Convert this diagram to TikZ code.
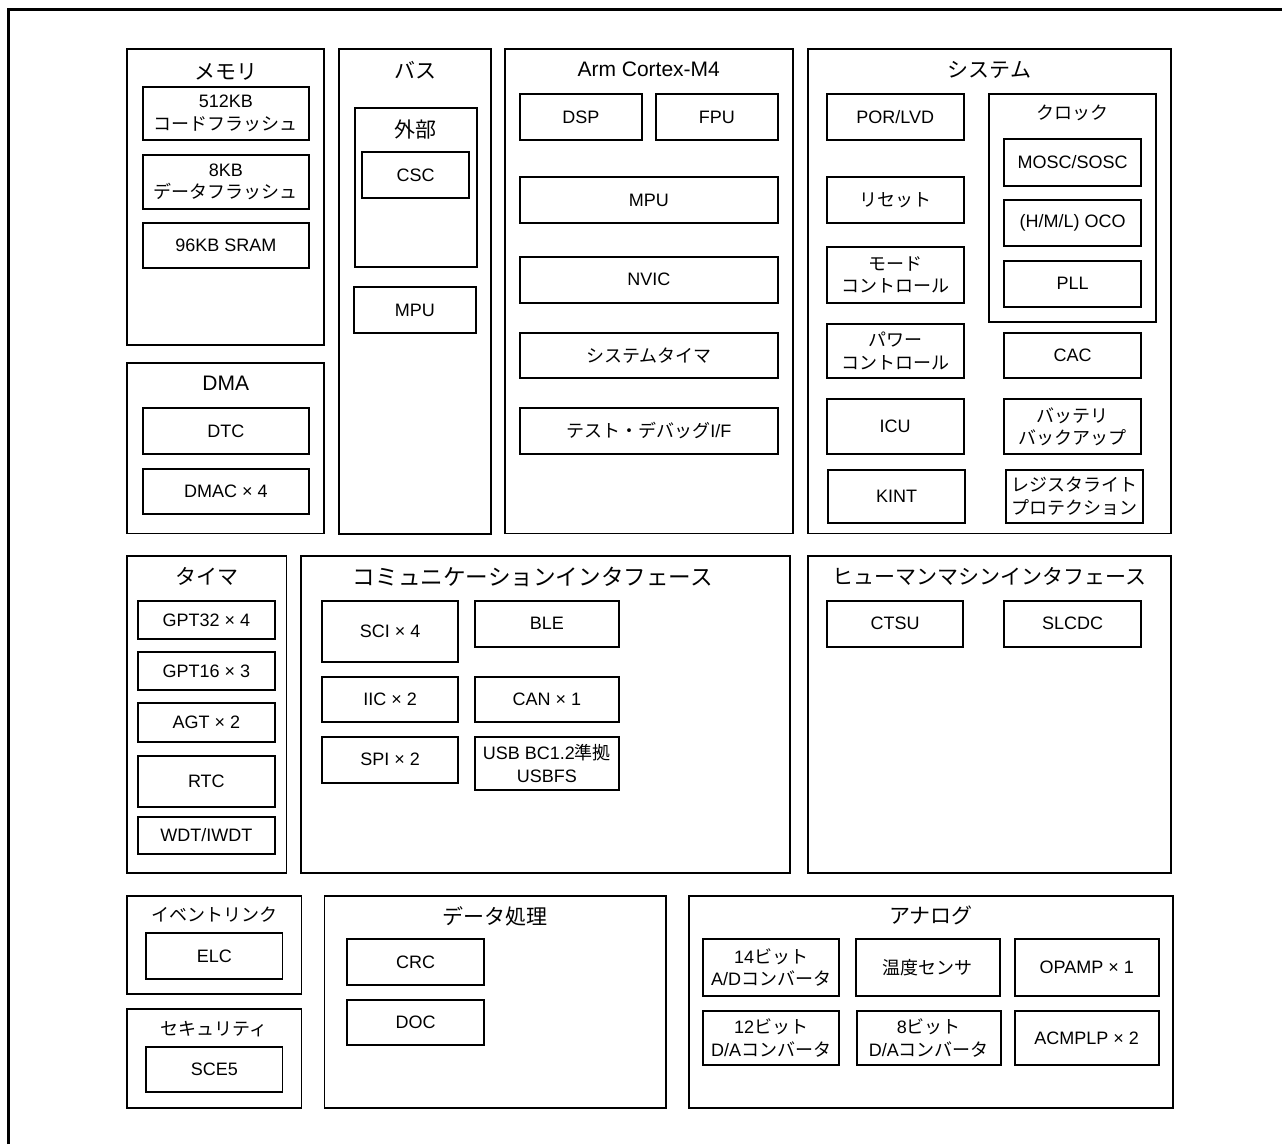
\documentclass[tikz,border=0pt]{standalone}
\usepackage{fontspec}
\setmainfont{Liberation Sans}
\newfontfamily\jp{Noto Sans CJK JP}
\tikzset{
  blk/.style={draw, line width=1.7pt, inner sep=0pt, outer sep=0pt, align=center,
    font=\fontsize{18}{22.5}\selectfont},
  cont/.style={draw, line width=1.7pt, inner sep=0pt, outer sep=0pt},
  ttl/.style={inner sep=0pt, font=\fontsize{21}{25}\selectfont},
  ttls/.style={inner sep=0pt, font=\fontsize{18}{22}\selectfont},
  frameline/.style={line width=3pt}
}
\newcommand\bx[6][blk]{\node[#1, minimum width={(#5)-(#3)}, minimum height={(#6)-(#4)}] (#2) at ({((#3)+(#5))/2},{((#4)+(#6))/2}) {};}
\newcommand\bxt[7][blk]{\node[#1, minimum width={(#5)-(#3)}, minimum height={(#6)-(#4)}] (#2) at ({((#3)+(#5))/2},{((#4)+(#6))/2}) {#7};}
\begin{document}
\begin{tikzpicture}[x=1pt,y=-1pt]
\useasboundingbox (0,0) rectangle (1282,1144);
% outer frame (top and left only)
\coordinate (fA) at (8.7,1144);
\coordinate (fB) at (8.7,9.5);
\coordinate (fC) at (1282,9.5);
\draw[frameline] (fA) -- (fB) -- (fC);

% ---- containers ----
\bx[cont]{mem}{127.3}{49.3}{324.3}{345}
\bx[cont]{dma}{127.3}{362.7}{324.3}{533.5}
\bx[cont]{bus}{339.3}{49.3}{490.7}{534}
\bx[cont]{ext}{355}{108.3}{476.7}{267.3}
\bx[cont]{arm}{504.7}{49.3}{792.7}{533.5}
\bx[cont]{sys}{808}{49.3}{1171}{533.5}
\bx[cont]{clk}{989}{94.3}{1156.3}{321.7}
\bx[cont]{tim}{127}{556}{286.6}{873.3}
\bx[cont]{com}{300.8}{556}{790}{873.3}
\bx[cont]{hmi}{807.7}{556}{1171}{873.3}
\bx[cont]{evt}{127}{895.7}{301.6}{994.3}
\bx[cont]{sec}{127}{1009.3}{301.6}{1107.7}
\bx[cont]{dat}{324.6}{895.7}{666}{1107.7}
\bx[cont]{ana}{688.8}{895.7}{1173.3}{1107.7}

% ---- titles ----
\node[ttl] (tmem) at (225.8,72) {\jp メモリ};
\node[ttl] (tbus) at (415,70) {\jp バス};
\node[ttl] (text) at (415.8,129.3) {\jp 外部};
\node[ttl] (tarm) at (648.7,69) {Arm Cortex-M4};
\node[ttl] (tsys) at (989.5,70) {\jp システム};
\node[ttls] (tclk) at (1072.7,112.7) {\jp クロック};
\node[ttl] (tdma) at (225.8,383.3) {DMA};
\node[ttl] (ttim) at (206.8,576.7) {\jp タイマ};
\node[ttl, font=\fontsize{22.6}{26}\selectfont] (tcom) at (533,576.7) {\jp コミュニケーションインタフェース};
\node[ttl] (thmi) at (989.3,576.7) {\jp ヒューマンマシンインタフェース};
\node[ttls] (tevt) at (214.3,915) {\jp イベントリンク};
\node[ttls] (tsec) at (214.3,1029) {\jp セキュリティ};
\node[ttl] (tdat) at (495.3,916.7) {\jp データ処理};
\node[ttl] (tana) at (931,915) {\jp アナログ};

% ---- memory / DMA ----
\bxt{m1}{142.7}{86.7}{309}{140}{512KB\\{\jp コードフラッシュ}}
\bxt{m2}{142.7}{154.7}{309}{209}{8KB\\{\jp データフラッシュ}}
\bxt{m3}{142.7}{222.7}{309}{268.3}{96KB SRAM}
\bxt{dtc}{142.7}{407.7}{309}{454}{DTC}
\bxt{dmac}{142.7}{468.7}{309}{514.3}{DMAC × 4}

% ---- bus ----
\bxt{csc}{362.3}{152.3}{469}{197.7}{CSC}
\bxt{bmpu}{354}{287.3}{475.7}{332.7}{MPU}

% ---- Arm Cortex-M4 ----
\bxt{dsp}{520}{94.3}{641.7}{140}{DSP}
\bxt{fpu}{656}{94.3}{777.7}{140}{FPU}
\bxt{ampu}{520}{177.3}{777.7}{223.3}{MPU}
\bxt{nvic}{520}{256.7}{777.7}{302.7}{NVIC}
\bxt{systim}{520}{332.7}{777.7}{378.3}{{\jp システムタイマ}}
\bxt{dbg}{520}{407.7}{777.7}{453.7}{{\jp テスト・デバッグ}I/F}

% ---- system ----
\bxt{por}{826.7}{94.3}{963.7}{140}{POR/LVD}
\bxt{rst}{826.7}{177.3}{963.7}{223.3}{{\jp リセット}}
\bxt{mode}{826.7}{246.7}{963.7}{302.7}{{\jp モード}\\{\jp コントロール}}
\bxt{pwr}{826.7}{324}{963.7}{378.3}{{\jp パワー}\\{\jp コントロール}}
\bxt{icu}{826.7}{399.3}{963.7}{454}{ICU}
\bxt{kint}{828}{470}{965}{522.7}{KINT}
\bxt{mosc}{1004.3}{139.3}{1141}{185.7}{MOSC/SOSC}
\bxt{oco}{1004.3}{200.3}{1141}{246}{(H/M/L) OCO}
\bxt{pll}{1004.3}{260.7}{1141}{306.7}{PLL}
\bxt{cac}{1004.3}{332.7}{1141}{378.3}{CAC}
\bxt{bat}{1004.3}{399.3}{1141}{454}{{\jp バッテリ}\\{\jp バックアップ}}
\bxt{rwp}{1005.7}{470}{1142.7}{522.7}{{\jp レジスタライト}\\{\jp プロテクション}}

% ---- timers ----
\bxt{gpt32}{137.9}{600.7}{274.9}{639}{GPT32 × 4}
\bxt{gpt16}{137.9}{652}{274.9}{690}{GPT16 × 3}
\bxt{agt}{137.9}{703}{274.9}{742.3}{AGT × 2}
\bxt{rtc}{137.9}{756}{274.9}{806.7}{RTC}
\bxt{wdt}{137.9}{816.7}{274.9}{854.3}{WDT/IWDT}

% ---- communication ----
\bxt{sci}{322.1}{600.7}{458.1}{661.7}{SCI × 4}
\bxt{ble}{474.7}{600.7}{618.9}{646.7}{BLE}
\bxt{iic}{322.1}{676.7}{458.1}{722.3}{IIC × 2}
\bxt{can}{474.7}{676.7}{618.9}{722.3}{CAN × 1}
\bxt{spi}{322.1}{736.7}{458.1}{782.7}{SPI × 2}
\bxt{usb}{474.7}{736.7}{618.9}{790}{USB BC1.2{\jp 準拠}\\USBFS}

% ---- HMI ----
\bxt{ctsu}{826.7}{600.7}{963.3}{646.7}{CTSU}
\bxt{slcdc}{1004}{600.7}{1141}{646.7}{SLCDC}

% ---- event link / security ----
\bxt{elc}{146.2}{933.3}{282.4}{979.3}{ELC}
\bxt{sce}{146.2}{1046.7}{282.4}{1092.3}{SCE5}

% ---- data processing ----
\bxt{crc}{347.1}{939.3}{484}{985}{CRC}
\bxt{doc}{347.1}{1000}{484}{1045}{DOC}

% ---- analog ----
\bxt{ad14}{703}{939.3}{839.3}{995.7}{14{\jp ビット}\\A/D{\jp コンバータ}}
\bxt{temp}{855.8}{939.3}{999.8}{995.7}{{\jp 温度センサ}}
\bxt{opamp}{1014.7}{939.3}{1158.7}{995.7}{OPAMP × 1}
\bxt{da12}{703}{1011}{839.3}{1065}{12{\jp ビット}\\D/A{\jp コンバータ}}
\bxt{da8}{857}{1011}{1000.9}{1065}{8{\jp ビット}\\D/A{\jp コンバータ}}
\bxt{acmp}{1014.7}{1011}{1158.7}{1065}{ACMPLP × 2}
\end{tikzpicture}
\end{document}
